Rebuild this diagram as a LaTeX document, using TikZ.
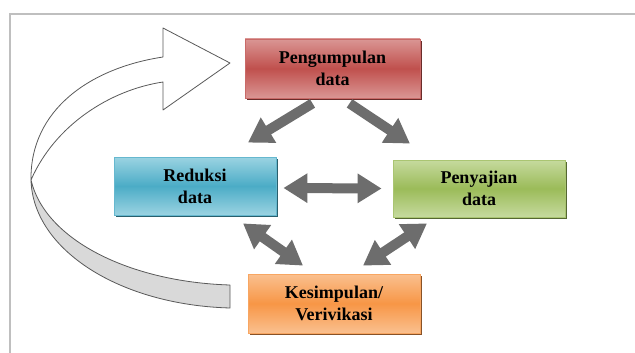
\documentclass[tikz,border=0pt]{standalone}
\usepackage{fontspec}
\setmainfont{Liberation Serif}
\usetikzlibrary{arrows.meta,shadows}
\definecolor{redmd}{HTML}{C0504D}
\definecolor{redlt}{HTML}{DA9694}
\definecolor{bluemd}{HTML}{4BACC6}
\definecolor{bluelt}{HTML}{9BD3E2}
\definecolor{greenmd}{HTML}{9BBB59}
\definecolor{greenlt}{HTML}{C6DA9E}
\definecolor{orangemd}{HTML}{F79646}
\definecolor{orangelt}{HTML}{FAC08F}
\definecolor{flowgray}{HTML}{6D6D6D}
\definecolor{framegray}{HTML}{BFBFBF}
\definecolor{ribbon}{HTML}{D9D9D9}
\tikzset{
  stage/.style={draw=#1md!85!white, line width=0.8pt, top color=#1lt, bottom color=#1lt, middle color=#1md,
    general shadow={shadow xshift=2pt, shadow yshift=-2pt, fill=#1md!55!black},
    align=center, font=\bfseries\fontsize{18}{22}\selectfont},
  flow/.style={flowgray, line width=10pt, -{Triangle[length=24pt,width=28pt]}},
  flowboth/.style={flowgray, line width=10pt, {Triangle[length=24pt,width=28pt]}-{Triangle[length=24pt,width=28pt]}},
  ribbonedge/.style={draw=black!65, line width=0.8pt, line join=round}
}

\begin{document}
\begin{tikzpicture}[x=1pt,y=-1pt]
\useasboundingbox (0,0) rectangle (635,353);
\draw[framegray, line width=1.2pt] (10,353) -- (10,14) -- (635,14);
\draw[ribbonedge, fill=ribbon] (31,180) .. controls (33,250) and (120,305) .. (230,308) -- (230,285) .. controls (130,282) and (45,240) .. (31,180) -- cycle;
\draw[ribbonedge, fill=white] (31,180) .. controls (30,110) and (90,68) .. (163,57) -- (163,28) -- (230,63) -- (163,110) -- (163,82) .. controls (110,90) and (55,125) .. (31,180) -- cycle;
\node[stage=red, minimum width=175pt, minimum height=59pt] (collect) at (332.5,68.5) {Pengumpulan\\data};
\node[stage=blue, minimum width=162pt, minimum height=58pt] (reduce) at (195,186) {Reduksi\\data};
\node[stage=green, minimum width=172pt, minimum height=57pt] (present) at (479,188.5) {Penyajian\\data};
\node[stage=orange, minimum width=172pt, minimum height=59pt] (conclude) at (334,303.5) {Kesimpulan/\\Verivikasi};
\draw[flow] ([xshift=-20pt,yshift=-5pt]collect.south) -- ([xshift=53pt,yshift=14pt]reduce.north);
\draw[flow] ([xshift=17pt,yshift=-5pt]collect.south) -- ([xshift=-69pt,yshift=16pt]present.north);
\draw[flowboth] ([xshift=7pt,yshift=-2pt]reduce.east) -- ([xshift=-11pt]present.west);
\draw[flowboth] ([xshift=48pt,yshift=-8pt]reduce.south) -- ([xshift=-31pt,yshift=8pt]conclude.north);
\draw[flowboth] ([xshift=-52pt,yshift=-6pt]present.south) -- ([xshift=29pt,yshift=8pt]conclude.north);
\end{tikzpicture}
\end{document}
